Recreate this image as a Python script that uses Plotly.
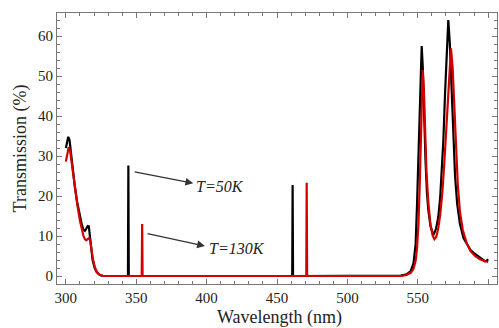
import plotly.graph_objects as go

# T = 50 K (black)
wl_50K = [300, 300.8, 301.7, 302.6, 303.5, 305, 306.5, 308, 310, 311.5, 312.5, 313.5,
          314.5, 315.5, 316.3, 317, 318, 319, 320.5, 322, 324, 326, 328,
          344.1, 344.4, 344.7,
          460.8, 461.1, 461.4,
          530, 538, 542, 545, 547, 548.5, 549.5, 550.4, 551.3, 552, 552.8, 553.6,
          554.5, 555.5, 556.5, 557.5, 559, 561.1, 563, 564.6, 566, 567, 568.2, 569.4,
          570.6, 571.7, 572.8, 574.1, 575.3, 576.5, 578, 580, 582.5, 584.8, 587.5,
          590.7, 594.2, 597.7, 599, 600]
tr_50K = [32.0, 33.8, 34.8, 34.0, 31.0, 26, 22, 18.5, 14.8, 12.6, 11.6, 11.3,
          11.8, 12.5, 12.4, 10.5, 6.5, 4, 2, 0.9, 0.3, 0.05, 0,
          0, 27.6, 0,
          0, 22.75, 0,
          0, 0.1, 0.4, 1.2, 3.2, 8, 18, 30, 43, 52, 57.5, 52,
          40, 29, 21, 16.5, 12.5, 10.2, 11.8, 14.8, 20, 26, 34, 45.7,
          57, 64, 58, 45.7, 33, 25, 18, 13, 9.5, 8.2, 6.5,
          5.5, 4.5, 3.7, 3.8, 4.2]

# T = 130 K (red)
wl_130K = [300, 301, 302, 303, 304, 305.5, 307, 308.5, 310, 311.5, 312.5, 313.5,
           314.5, 315.5, 316.5, 317.3, 318.2, 319.2, 320.5, 322, 324, 326, 328,
           353.9, 354.2, 354.5,
           470.8, 471.1, 471.4,
           538, 542, 545, 547, 548.5, 549.5, 550.5, 551.5, 552.5, 553.5, 554.3,
           555.2, 556.2, 557.5, 559, 560.5, 561.8, 563.2, 564.6, 566, 567.5, 569,
           570.5, 572, 573.6, 574.8, 576, 577.3, 578.5, 580, 582, 584.8, 587.5,
           590.7, 594.2, 597.7, 600]
tr_130K = [28.6, 30.8, 32.2, 31.3, 28.5, 24.5, 20.5, 17, 13.8, 11.2, 10, 9.2,
           8.9, 9.2, 9.5, 8.8, 6.5, 4.3, 2.3, 1, 0.3, 0.05, 0,
           0, 13, 0,
           0, 23.3, 0,
           0, 0.25, 0.8, 1.8, 3.8, 7, 13, 24, 40, 51.5, 47,
           36, 26, 18.5, 13, 10.2, 9.2, 9.8, 12, 15.5, 21, 29,
           38, 49, 56.9, 52, 41, 30, 22.5, 16, 11.5, 8.2, 6.2,
           5, 4.2, 3.7, 3.5]

x_ticks = [300, 350, 400, 450, 500, 550, 600]
y_ticks = [0, 10, 20, 30, 40, 50, 60]

labels = ["T=50K", "T=130K"]
label_pos = [(409.5, 22.3), (421.5, 7.0)]
arrow_tail = [(347.8, 26.1), (356.9, 10.7)]
arrow_head = [(390.5, 23.2), (398.8, 7.5)]

fig = go.Figure()
fig.add_trace(go.Scatter(x=wl_50K, y=tr_50K, mode="lines",
                         line=dict(color="#000000", width=2.2), showlegend=False))
fig.add_trace(go.Scatter(x=wl_130K, y=tr_130K, mode="lines",
                         line=dict(color="#d40000", width=2.2), showlegend=False))

for (tx, ty), (hx, hy) in zip(arrow_tail, arrow_head):
    fig.add_annotation(x=hx, y=hy, ax=tx, ay=ty, xref="x", yref="y",
                       axref="x", ayref="y", text="", showarrow=True,
                       arrowhead=2, arrowsize=1.2, arrowwidth=1.3, arrowcolor="#333333")
for lab, (lx, ly) in zip(labels, label_pos):
    fig.add_annotation(x=lx, y=ly, xref="x", yref="y", text="<i>" + lab + "</i>",
                       showarrow=False, font=dict(family="Liberation Serif", size=16, color="#222222"))

# x-axis title, placed low as in the reference
fig.add_annotation(x=0.505, y=-0.125, xref="paper", yref="paper", text="Wavelength (nm)",
                   showarrow=False, xanchor="center", yanchor="middle",
                   font=dict(family="Liberation Serif", size=18, color="#222222"))

axis_common = dict(showline=True, linecolor="#777777", linewidth=1, mirror="ticks",
                   ticks="inside", ticklen=5, tickcolor="#777777", showgrid=False,
                   zeroline=False, automargin=False,
                   tickfont=dict(family="Liberation Serif", size=15, color="#222222"))

fig.update_xaxes(range=[293.7, 606.3], tickvals=x_ticks,
                 minor=dict(dtick=10, ticks="inside", ticklen=3, tickcolor="#777777"),
                 **axis_common)
fig.update_yaxes(range=[-2, 65.75], tickvals=y_ticks,
                 minor=dict(dtick=2, ticks="inside", ticklen=3, tickcolor="#777777"),
                 title=dict(text="Transmission (%)", font=dict(family="Liberation Serif", size=18, color="#222222"),
                            standoff=6),
                 **axis_common)

fig.update_layout(width=499, height=328, margin=dict(l=57, r=2, t=13, b=44),
                  plot_bgcolor="white", paper_bgcolor="white")

fig.write_html("out.html")
